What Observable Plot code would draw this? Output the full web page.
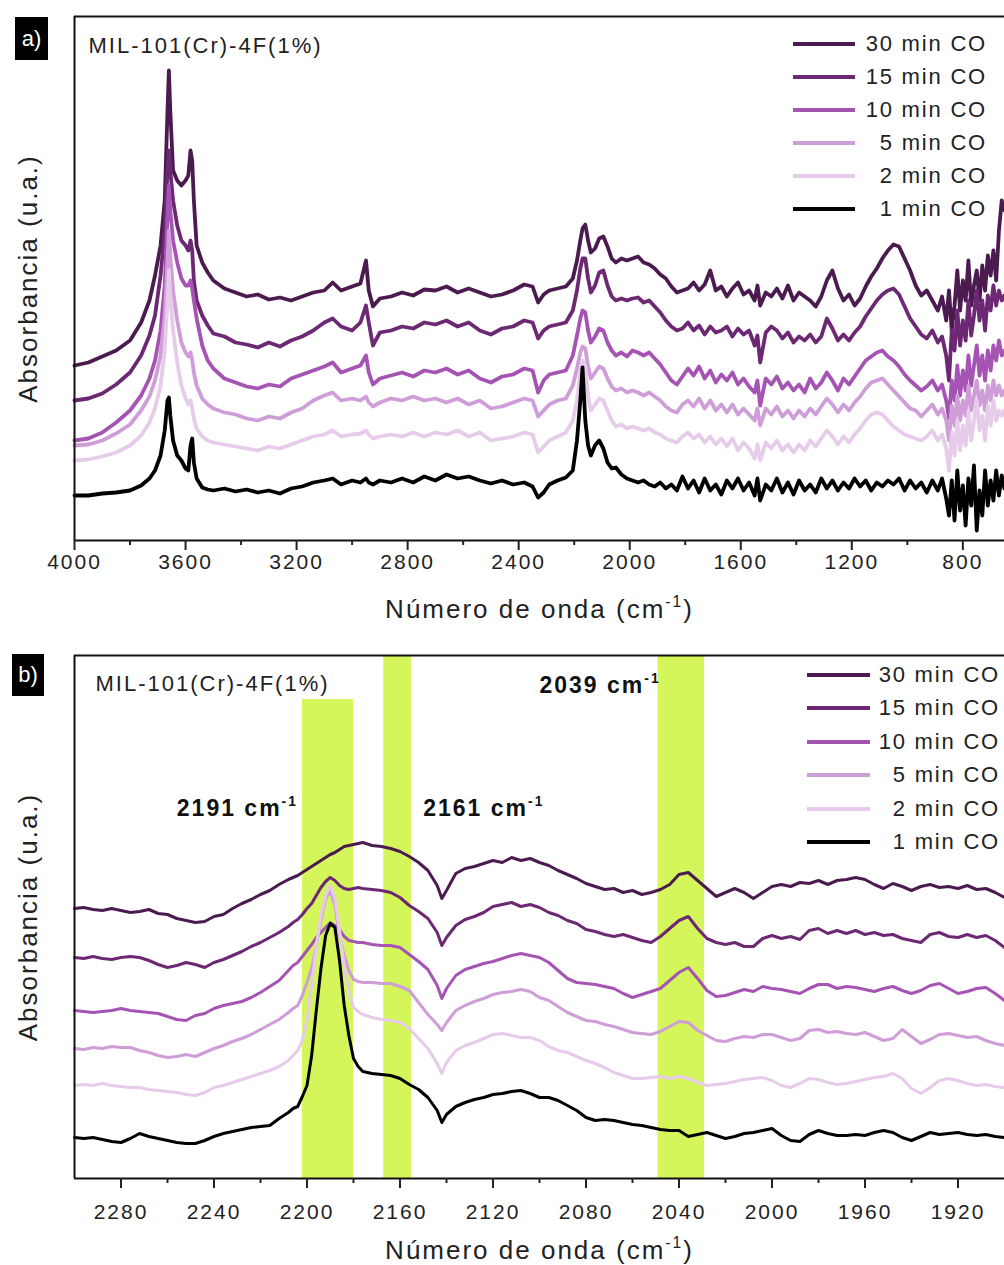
<!DOCTYPE html>
<html><head><meta charset="utf-8">
<script src="https://cdn.jsdelivr.net/npm/d3@7"></script>
<script src="https://cdn.jsdelivr.net/npm/@observablehq/plot@0.6"></script>
<style>
body{margin:0;background:#fff;}
#wrap{position:relative;width:1004px;height:1265px;overflow:hidden;font-family:"Liberation Sans",Arial,sans-serif;color:#222;}
.panel{position:absolute;left:0;}
.panel svg text{letter-spacing:2px;}
.panel g[aria-label="xtitle"] text{letter-spacing:2.5px;}
.panel g[aria-label="ytitle"] text{letter-spacing:1.5px;}
.panel g[aria-label="annot"] text{letter-spacing:1px;}
.tag{position:absolute;background:#000;color:#fff;font-size:22px;display:flex;align-items:center;justify-content:center;}
.leg-line{position:absolute;height:4px;}
.leg-text{position:absolute;font-size:22px;letter-spacing:1.8px;text-align:right;height:26px;line-height:26px;white-space:nowrap;}
</style></head><body><div id="wrap"></div><script>
// ---------- data ----------
const series = ["30 min CO","15 min CO","10 min CO","5 min CO","2 min CO","1 min CO"];
const colors = ["#4b1b50","#6d2874","#a654b4","#cf9dd8","#e7cbea","#000000"];

// Panel a: wavenumbers (cm-1) and absorbance (a.u., offset curves)
const waveA = [
4000,3950,3900,3850,3800,3760,3730,3710,3690,3675,
3665,3660,3655,3645,3630,3615,3600,3590,3582,3576,
3570,3560,3540,3520,3500,3460,3420,3380,3340,3300,
3260,3220,3180,3140,3100,3070,3040,3000,2970,2950,
2940,2925,2900,2860,2820,2780,2740,2700,2660,2620,
2580,2540,2500,2460,2420,2380,2350,2330,2310,2290,
2260,2230,2205,2190,2178,2170,2160,2150,2140,2125,
2110,2095,2080,2065,2050,2030,2010,1990,1970,1950,
1930,1910,1890,1870,1850,1830,1810,1790,1770,1750,
1730,1710,1690,1670,1650,1630,1610,1590,1570,1550,
1540,1530,1510,1490,1470,1450,1430,1410,1390,1370,
1350,1330,1310,1290,1270,1250,1230,1210,1190,1170,
1150,1130,1110,1090,1070,1050,1030,1010,990,970,
950,930,910,890,875,860,850,840,830,820,
810,800,790,780,770,760,750,740,730,720,
710,700,690,680,670,660,650];
const a30 = [
175,178,184,190,200,218,240,265,295,340,
430,470,430,370,360,355,360,365,390,380,
340,295,278,268,260,252,248,244,246,241,
243,240,244,248,250,258,250,254,257,280,
250,234,242,244,248,245,251,250,254,248,
252,248,244,246,250,256,254,238,246,250,
252,254,262,280,300,312,316,300,288,292,
302,304,294,282,278,282,280,282,284,278,
276,272,266,262,254,248,250,252,258,250,
256,270,250,254,244,252,258,246,250,240,
255,235,248,244,252,242,255,240,248,244,
240,234,244,260,270,252,240,246,235,242,
254,264,272,282,290,296,294,282,270,255,
245,250,240,230,244,220,250,210,235,270,
230,260,240,280,235,255,270,240,275,250,
285,265,290,260,310,340,330];
const a15 = [
140,142,147,156,168,185,205,225,265,310,
370,390,370,340,315,300,295,290,300,290,
260,240,225,215,207,204,198,196,193,198,
194,200,204,210,218,222,214,210,218,235,
218,195,208,210,214,212,218,216,220,214,
218,210,206,212,214,220,218,202,210,214,
216,218,230,250,272,282,282,262,248,255,
268,270,255,244,240,242,240,242,243,238,
240,234,228,220,214,210,212,218,210,215,
206,214,208,210,214,204,212,206,210,195,
205,178,208,214,210,202,208,198,204,200,
206,198,204,222,212,200,206,200,208,214,
224,232,240,246,250,252,246,234,222,214,
206,202,210,198,204,185,160,210,190,230,
195,220,200,240,205,225,250,220,240,210,
245,230,255,235,250,240,245];
const a10 = [
100,102,108,118,130,145,162,180,210,255,
325,355,330,300,278,262,255,255,260,252,
240,222,195,180,172,162,158,154,152,156,
154,162,166,170,174,178,168,172,175,185,
168,156,162,165,168,164,170,168,172,166,
170,162,158,164,166,172,170,148,160,166,
168,170,185,205,222,230,228,210,198,204,
212,210,198,190,185,188,184,190,188,185,
188,182,176,168,160,156,164,172,165,174,
162,170,158,166,160,168,156,162,154,148,
160,135,162,156,164,152,158,150,156,148,
162,152,158,168,160,150,162,156,164,172,
180,184,188,190,184,180,174,166,160,155,
150,154,160,150,156,140,122,160,140,175,
145,170,150,185,155,175,195,165,185,160,
190,170,195,180,200,185,190];
const a5 = [
95,96,100,107,116,130,144,160,185,225,
280,310,285,250,220,198,188,184,188,180,
168,155,142,136,132,128,126,122,120,124,
122,128,132,140,145,148,140,142,140,144,
138,134,138,142,140,144,140,142,138,142,
136,140,132,134,138,142,140,124,130,136,
140,142,155,172,188,194,192,174,162,168,
174,172,162,154,150,152,148,150,148,145,
148,144,140,134,130,128,136,140,134,142,
132,140,130,136,128,136,126,132,126,120,
132,115,132,126,134,124,130,122,130,124,
132,126,134,142,136,128,136,130,138,144,
152,158,160,162,156,150,144,138,132,130,
124,130,136,126,132,120,100,135,115,145,
120,140,125,155,130,145,160,135,150,130,
155,140,160,145,155,145,150];
const a2 = [
80,81,84,88,95,105,118,132,155,190,
240,270,245,210,178,155,142,136,140,132,
122,112,104,100,98,96,94,92,90,94,
92,96,100,104,106,110,104,106,107,110,
106,102,104,106,104,108,104,108,106,110,
104,108,100,102,104,108,106,88,94,100,
104,108,120,140,168,180,174,144,130,136,
142,140,130,120,114,116,112,114,112,110,
112,108,106,102,100,98,104,108,102,106,
98,104,96,102,94,102,90,98,92,82,
96,80,98,92,100,90,96,88,96,90,
100,94,102,110,104,96,104,98,106,112,
120,126,128,126,120,114,110,106,104,102,
100,104,110,100,106,92,70,108,85,120,
90,115,95,130,100,120,140,110,125,100,
135,115,140,120,130,125,130];
const a1 = [
45,45,47,48,50,55,62,70,85,110,
140,143,125,100,85,80,72,70,95,102,
78,62,53,51,50,52,49,51,48,50,
47,52,54,58,60,62,56,60,58,62,
58,56,60,58,62,58,64,60,66,62,
64,60,57,60,56,58,54,43,48,56,
60,63,70,100,140,173,120,95,85,95,
100,92,78,72,73,66,62,60,58,60,
56,54,58,52,56,50,64,52,60,48,
62,50,56,46,60,52,62,50,58,45,
62,40,56,50,62,48,58,46,60,50,
56,48,62,52,60,50,58,52,62,54,
60,50,58,54,60,56,62,50,60,52,
58,48,60,50,62,42,25,60,20,70,
30,55,15,62,35,75,10,50,25,70,
35,60,40,70,45,65,52];
const majorTicksA = [4000,3600,3200,2800,2400,2000,1600,1200,800];
const minorTicksA = [3800,3400,3000,2600,2200,1800,1400,1000];

// Panel b
const waveB = [
2300,2296,2292,2288,2284,2280,2276,2272,2268,2264,
2260,2256,2252,2248,2244,2240,2236,2232,2228,2224,
2220,2216,2212,2208,2206,2204,2202,2200,2198,2196,
2194,2192,2190,2188,2186,2184,2182,2180,2178,2176,
2172,2168,2164,2160,2156,2152,2148,2144,2142,2140,
2136,2132,2128,2124,2120,2116,2112,2108,2104,2100,
2096,2092,2088,2084,2080,2076,2072,2068,2064,2060,
2056,2052,2048,2044,2040,2036,2032,2028,2024,2020,
2016,2012,2008,2004,2000,1996,1992,1988,1984,1980,
1976,1972,1968,1964,1960,1956,1952,1948,1944,1940,
1936,1932,1928,1924,1920,1916,1912,1908,1904,1900];
const b30 = [
270,271,269,268,270,268,266,267,269,265,
264,260,258,256,257,262,264,270,275,279,
284,288,294,299,301,303,306,309,312,315,
318,321,324,326,329,332,333,334,335,336,
333,332,330,327,322,316,308,293,280,288,
305,310,312,315,318,316,321,318,320,316,
313,308,304,300,295,292,289,290,286,288,
284,286,289,294,304,306,298,290,282,286,
290,286,280,286,292,294,292,296,295,298,
294,298,299,301,299,294,290,295,292,288,
292,294,291,292,290,293,289,290,286,281];
const b15 = [
221,220,222,220,219,221,222,221,218,214,
211,213,216,214,211,216,219,223,227,232,
236,241,246,252,256,259,264,270,275,283,
291,297,301,298,293,290,289,290,291,290,
289,288,286,281,273,267,260,246,233,241,
253,259,262,266,272,274,276,272,274,271,
266,263,258,255,249,247,244,242,244,241,
238,236,242,250,258,262,250,240,236,234,
236,232,232,240,243,240,242,239,248,250,
245,248,245,248,244,246,243,244,240,238,
236,244,246,242,241,244,241,243,238,231];
const b10 = [
168,167,166,167,168,170,168,167,166,165,
162,159,158,163,165,170,173,175,177,181,
186,192,198,208,213,216,222,228,234,241,
246,251,256,253,249,242,238,237,236,236,
234,233,233,231,224,217,209,193,180,190,
203,209,212,215,217,220,223,225,223,221,
216,208,200,196,195,194,192,190,185,181,
184,187,190,198,206,211,200,188,182,183,
186,189,187,192,190,189,187,185,190,194,
194,190,192,191,189,187,190,192,188,185,
188,193,195,190,185,187,190,191,185,178];
const b5 = [
130,129,131,130,132,131,131,128,126,123,
121,122,124,122,126,130,133,137,140,144,
149,154,159,166,170,173,183,196,210,233,
258,280,288,273,243,223,208,199,197,196,
196,195,195,192,188,176,164,154,148,156,
168,173,177,180,184,186,187,189,187,181,
178,172,166,162,158,157,154,152,149,146,
145,144,147,152,157,156,148,143,138,137,
140,142,141,144,144,141,138,140,148,149,
146,147,145,144,146,142,138,140,149,142,
135,139,144,145,143,141,142,138,135,133];
const b2 = [
93,94,93,95,93,92,91,91,89,88,
87,86,84,83,86,91,93,96,99,102,
105,108,112,118,123,128,138,158,193,233,
263,283,293,280,248,213,188,171,167,164,
161,159,158,156,150,140,130,115,105,116,
128,133,136,140,144,145,143,141,141,138,
132,128,126,122,118,115,111,106,103,100,
100,101,102,100,102,100,96,93,94,95,
97,99,100,101,98,93,91,95,100,99,
96,94,95,97,99,101,102,105,100,90,
85,91,98,100,98,95,93,94,92,91];
const b1 = [
41,40,41,39,37,36,40,45,42,40,
38,36,35,35,38,42,45,47,49,51,
52,53,60,66,70,72,82,93,123,168,
210,243,255,251,218,173,143,120,112,107,
105,104,103,100,94,89,81,68,56,64,
72,76,79,81,84,85,87,88,85,81,
81,78,73,68,61,58,59,58,56,54,
53,51,49,48,48,42,44,46,43,40,
42,45,46,48,50,43,38,37,44,48,
45,43,43,44,43,46,48,46,41,38,
42,46,44,45,46,44,43,44,42,41];
const majorTicksB = [2280,2240,2200,2160,2120,2080,2040,2000,1960,1920];
const minorTicksB = [2260,2220,2180,2140,2100,2060,2020,1980,1940];
const bandFrom = [2202,2167,2049];
const bandTo = [2180,2155,2029];
const bandTop = [479,523,523];
const peakLabels = ["2191 cm^-1","2161 cm^-1","2039 cm^-1"];
const peakLabelW = [2256,2150,2100];
const peakLabelA = [363,363,486];

const sample = "MIL-101(Cr)-4F(1%)";
const xTitle = "Número de onda (cm^-1)";
const yTitle = "Absorbancia (u.a.)";

// ---------- build ----------
const rows = (w, v) => w.map((x, i) => ({w: x, a: v[i]}));
const font = '"Liberation Sans", Arial, sans-serif';
const wrap = document.getElementById("wrap");

function fixSup(svg) {
  svg.querySelectorAll("text").forEach(t => {
    if (!t.textContent.includes("^-1")) return;
    const fs = parseFloat(getComputedStyle(t).fontSize) || 20;
    const [before, after] = t.textContent.split("^-1");
    t.textContent = "";
    const ns = "http://www.w3.org/2000/svg";
    const s0 = document.createElementNS(ns, "tspan"); s0.textContent = before; t.appendChild(s0);
    const s1 = document.createElementNS(ns, "tspan"); s1.textContent = "-1";
    s1.setAttribute("dy", (-0.42 * fs).toFixed(1)); s1.setAttribute("font-size", (0.6 * fs).toFixed(1));
    t.appendChild(s1);
    if (after) {
      const s2 = document.createElementNS(ns, "tspan"); s2.textContent = after;
      s2.setAttribute("dy", (0.42 * fs).toFixed(1)); t.appendChild(s2);
    }
  });
}

function frameMarks(x0, top) {
  return [
    Plot.ruleY([0], {stroke: "#111", strokeWidth: 2}),
    Plot.ruleY([top], {stroke: "#111", strokeWidth: 2}),
    Plot.ruleX([x0], {stroke: "#111", strokeWidth: 2})
  ];
}

// Panel a
const seriesA = [a30, a15, a10, a5, a2, a1];
const chartA = Plot.plot({
  width: 1004, height: 640, marginLeft: 74, marginRight: 0, marginTop: 16, marginBottom: 100,
  style: {fontFamily: font, fontSize: "21px", color: "#222", background: "transparent", overflow: "visible"},
  x: {domain: [4000, 650], label: null},
  y: {domain: [0, 524], axis: null},
  marks: [
    ...seriesA.map((v, i) => Plot.line(rows(waveA, v), {x: "w", y: "a", stroke: colors[i], strokeWidth: 3.8, strokeLinejoin: "round"})),
    ...frameMarks(4000, 524),
    Plot.axisX(majorTicksA, {tickSize: 10, tickPadding: 4, strokeWidth: 2, tickFormat: "d", label: null}),
    Plot.axisX(minorTicksA, {tickSize: 5, strokeWidth: 2, tickFormat: () => "", label: null}),
    Plot.text([xTitle], {frameAnchor: "bottom", dy: 77, lineAnchor: "bottom", fontSize: 26, ariaLabel: "xtitle"}),
    Plot.text([yTitle], {frameAnchor: "left", rotate: -90, dx: -46, textAnchor: "middle", lineAnchor: "middle", fontSize: 26, ariaLabel: "ytitle"}),
    Plot.text([sample], {frameAnchor: "top-left", dx: 14, dy: 36, lineAnchor: "bottom", textAnchor: "start", fontSize: 22})
  ]
});

// Panel b
const seriesB = [b30, b15, b10, b5, b2, b1];
const bands = bandFrom.map((f, i) => ({from: f, to: bandTo[i], top: bandTop[i]}));
const annots = peakLabels.map((l, i) => ({label: l, w: peakLabelW[i], a: peakLabelA[i]}));
const chartB = Plot.plot({
  width: 1004, height: 625, marginLeft: 74, marginRight: 0, marginTop: 15, marginBottom: 87,
  style: {fontFamily: font, fontSize: "21px", color: "#222", background: "transparent", overflow: "visible"},
  x: {domain: [2300, 1900], label: null},
  y: {domain: [0, 523], axis: null},
  marks: [
    Plot.rect(bands, {x1: "from", x2: "to", y1: 0, y2: "top", fill: "#d4f65b"}),
    ...seriesB.map((v, i) => Plot.line(rows(waveB, v), {x: "w", y: "a", stroke: colors[i], strokeWidth: 3, strokeLinejoin: "round"})),
    ...frameMarks(2300, 523),
    Plot.axisX(majorTicksB, {tickSize: 10, tickPadding: 16, strokeWidth: 2, tickFormat: "d", label: null}),
    Plot.axisX(minorTicksB, {tickSize: 5, strokeWidth: 2, tickFormat: () => "", label: null}),
    Plot.text([xTitle], {frameAnchor: "bottom", dy: 80, lineAnchor: "bottom", fontSize: 26, ariaLabel: "xtitle"}),
    Plot.text([yTitle], {frameAnchor: "left", rotate: -90, dx: -46, textAnchor: "middle", lineAnchor: "middle", fontSize: 26, ariaLabel: "ytitle"}),
    Plot.text([sample], {frameAnchor: "top-left", dx: 21, dy: 35, lineAnchor: "bottom", textAnchor: "start", fontSize: 22}),
    Plot.text(annots, {x: "w", y: "a", text: "label", textAnchor: "start", lineAnchor: "bottom", fontWeight: "bold", fontSize: 23, fill: "#111", ariaLabel: "annot"})
  ]
});

function addPanel(chart, top) {
  const d = document.createElement("div");
  d.className = "panel"; d.style.top = top + "px";
  d.appendChild(chart);
  wrap.appendChild(d);
  fixSup(chart);
}
addPanel(chartA, 0);
addPanel(chartB, 640);

// panel tags
function tag(txt, l, t, w, h) {
  const d = document.createElement("div");
  d.className = "tag"; d.textContent = txt;
  Object.assign(d.style, {left: l + "px", top: t + "px", width: w + "px", height: h + "px"});
  wrap.appendChild(d);
}
tag("a)", 15, 17, 33, 43);
tag("b)", 12, 654, 32, 42);

// legends
function legend(lineLeft, lineW, textRight, y0, step) {
  series.forEach((s, i) => {
    const cy = y0 + i * step;
    const ln = document.createElement("div");
    ln.className = "leg-line";
    Object.assign(ln.style, {left: lineLeft + "px", width: lineW + "px", top: (cy - 2) + "px", background: colors[i]});
    wrap.appendChild(ln);
    const tx = document.createElement("div");
    tx.className = "leg-text"; tx.textContent = s;
    Object.assign(tx.style, {right: (1004 - textRight) + "px", top: (cy - 13) + "px"});
    wrap.appendChild(tx);
  });
}
legend(793, 62, 987, 44, 33);
legend(807, 63, 1000, 675, 33.4);
</script></body></html>
